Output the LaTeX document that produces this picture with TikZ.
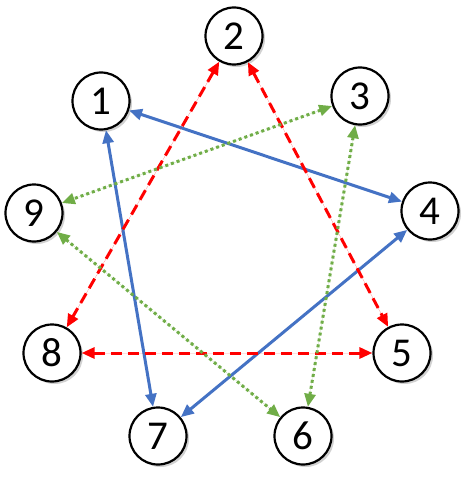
\documentclass[tikz,border=0pt]{standalone}
\usepackage{fontspec}
\setmainfont{Carlito}
\usetikzlibrary{arrows.meta,shadows}
\definecolor{oblue}{HTML}{4472C4}
\definecolor{ored}{HTML}{FF0000}
\definecolor{ogreen}{HTML}{70AD47}
\begin{document}
\begin{tikzpicture}[x=1pt,y=-1pt,
  num/.style={circle,draw=black,line width=2.2pt,fill=white,minimum size=57pt,inner sep=0pt,
    font=\fontsize{41}{41}\selectfont,
    drop shadow={shadow xshift=2.5pt,shadow yshift=-2.5pt,opacity=0.3,fill=black!60}},
  link/.style={line width=3pt,{Triangle[length=13pt,width=11pt]}-{Triangle[length=13pt,width=11pt]}},
  bluelink/.style={link,draw=oblue,fill=oblue},
  redlink/.style={link,draw=ored,fill=ored,dash pattern=on 11pt off 6pt},
  greenlink/.style={link,draw=ogreen,fill=ogreen,dash pattern=on 3pt off 3pt}]
\useasboundingbox (0,0) rectangle (472,492);
\node[num] (n1) at (101,101) {1};
\node[num] (n2) at (234,36) {2};
\node[num] (n3) at (360,96) {3};
\node[num] (n4) at (430,211) {4};
\node[num] (n5) at (402,353) {5};
\node[num] (n6) at (303,436) {6};
\node[num] (n7) at (158,436) {7};
\node[num] (n8) at (52,353) {8};
\node[num] (n9) at (34,213) {9};
\draw[bluelink] (n1) -- (n4);
\draw[bluelink] (n1) -- (n7);
\draw[bluelink] (n4) -- (n7);
\draw[redlink] (n2) -- (n8);
\draw[redlink] (n2) -- (n5);
\draw[redlink] (n8) -- (n5);
\draw[greenlink] (n3) -- (n9);
\draw[greenlink] (n3) -- (n6);
\draw[greenlink] (n9) -- (n6);
\end{tikzpicture}
\end{document}
